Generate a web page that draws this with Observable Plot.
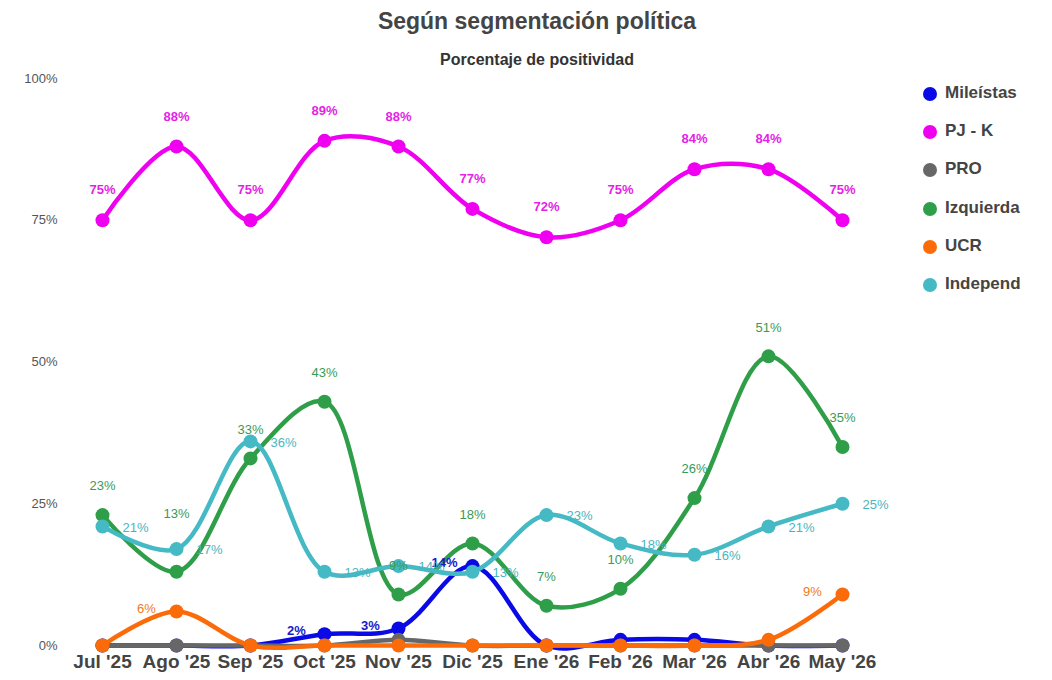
<!DOCTYPE html>
<html>
<head>
<meta charset="utf-8">
<script src="https://cdn.jsdelivr.net/npm/d3@7"></script>
<script src="https://cdn.jsdelivr.net/npm/@observablehq/plot@0.6"></script>
<style>
  body { margin: 0; background: #fff; font-family: "Liberation Sans", Arial, sans-serif; }
  #wrap { position: relative; width: 1052px; height: 680px; }
  #title { position: absolute; left: 0; width: 1074px; top: 8px; text-align: center; font-size: 23px; font-weight: bold; color: #444; }
  #subtitle { position: absolute; left: 0; width: 1074px; top: 51px; text-align: center; font-size: 16px; font-weight: bold; color: #333; }
  #legend { position: absolute; left: 922px; top: 82px; }
  .item { position: relative; height: 38.2px; font-size: 17px; font-weight: bold; color: #444; }
  .sw { position: absolute; left: 1px; top: 5px; width: 14px; height: 14px; border-radius: 50%; }
  .lab { position: absolute; left: 23px; top: 1px; white-space: nowrap; }
  #chart { position: absolute; left: 0; top: 0; }
</style>
</head>
<body>
<div id="wrap">
  <div id="chart"></div>
  <div id="title">Según segmentación política</div>
  <div id="subtitle">Porcentaje de positividad</div>
  <div id="legend"></div>
</div>
<script>
const months = ["Jul '25", "Ago '25", "Sep '25", "Oct '25", "Nov '25", "Dic '25", "Ene '26", "Feb '26", "Mar '26", "Abr '26", "May '26"];
const seriesNames = ["Mileístas", "PJ - K", "PRO", "Izquierda", "UCR", "Independ"];
const seriesColors = ["#0a0ae6", "#f000f0", "#676767", "#2f9e48", "#fb6b0a", "#45b9c4"];
const mileistas = [0, 0, 0, 2, 3, 14, 0, 1, 1, 0, 0];
const pjk       = [75, 88, 75, 89, 88, 77, 72, 75, 84, 84, 75];
const pro       = [0, 0, 0, 0, 1, 0, 0, 0, 0, 0, 0];
const izquierda = [23, 13, 33, 43, 9, 18, 7, 10, 26, 51, 35];
const ucr       = [0, 6, 0, 0, 0, 0, 0, 0, 0, 1, 9];
const independ  = [21, 17, 36, 13, 14, 13, 23, 18, 16, 21, 25];
const yTicks = [0, 25, 50, 75, 100];

const seriesValues = [mileistas, pjk, pro, izquierda, ucr, independ];
const data = seriesNames.flatMap((s, i) => months.map((m, j) => ({month: m, serie: s, value: seriesValues[i][j]})));

// label styling per series
const labelStyle = {
  "Mileístas": {dx: -28, dy: -3, fontWeight: "bold", fill: "#1a1ac8"},
  "PJ - K":    {dx: 0, dy: -30, fontWeight: "bold", fill: "#e61ee6"},
  "Izquierda": {dx: 0, dy: -29, fontWeight: "normal", fill: "#3a9a55"},
  "UCR":       {dx: -30, dy: -3, fontWeight: "normal", fill: "#f07a20"},
  "Independ":  {dx: 33, dy: 1, fontWeight: "normal", fill: "#4ab5c0"}
};
// annotations that the original pushes higher to avoid another series' point
const raisedLabels = [["Izquierda", "Ago '25"]];
const isRaised = r => raisedLabels.some(([s, m]) => s === r.serie && m === r.month);

const marks = [
  Plot.axisY({ticks: yTicks, tickSize: 0, tickPadding: 5, tickFormat: d => d + "%", fontSize: 13, color: "#555", label: null}),
  Plot.axisX({tickSize: 0, tickPadding: 9, fontSize: 19, fontWeight: "bold", color: "#444", label: null})
];
seriesNames.forEach(s => {
  const d = data.filter(r => r.serie === s);
  marks.push(Plot.line(d, {x: "month", y: "value", stroke: "serie", strokeWidth: 4.5, curve: "catmull-rom"}));
  marks.push(Plot.dot(d, {x: "month", y: "value", fill: "serie", r: 7}));
});
seriesNames.forEach(s => {
  const st = labelStyle[s];
  if (!st) return;
  const d = data.filter(r => r.serie === s && r.value >= 2);
  const base = {x: "month", y: "value", text: r => r.value + "%", dx: st.dx, fill: st.fill, fontWeight: st.fontWeight, fontSize: 13};
  marks.push(Plot.text(d.filter(r => !isRaised(r)), {...base, dy: st.dy}));
  marks.push(Plot.text(d.filter(isRaised), {...base, dy: st.dy * 2}));
});

const chart = Plot.plot({
  width: 1052,
  height: 680,
  marginLeft: 62,
  marginRight: 200,
  marginTop: 78,
  marginBottom: 35,
  x: {type: "point", domain: months, range: [100, 843], padding: 0, label: null},
  y: {domain: [0, 100], range: [645, 78], label: null},
  color: {domain: seriesNames, range: seriesColors},
  style: {fontFamily: "'Liberation Sans', Arial, sans-serif", background: "transparent", overflow: "visible"},
  marks
});
document.getElementById("chart").appendChild(chart);

const leg = document.getElementById("legend");
seriesNames.forEach((s, i) => {
  const it = document.createElement("div");
  it.className = "item";
  it.innerHTML = `<span class="sw" style="background:${seriesColors[i]}"></span><span class="lab">${s}</span>`;
  leg.appendChild(it);
});
</script>
</body>
</html>
